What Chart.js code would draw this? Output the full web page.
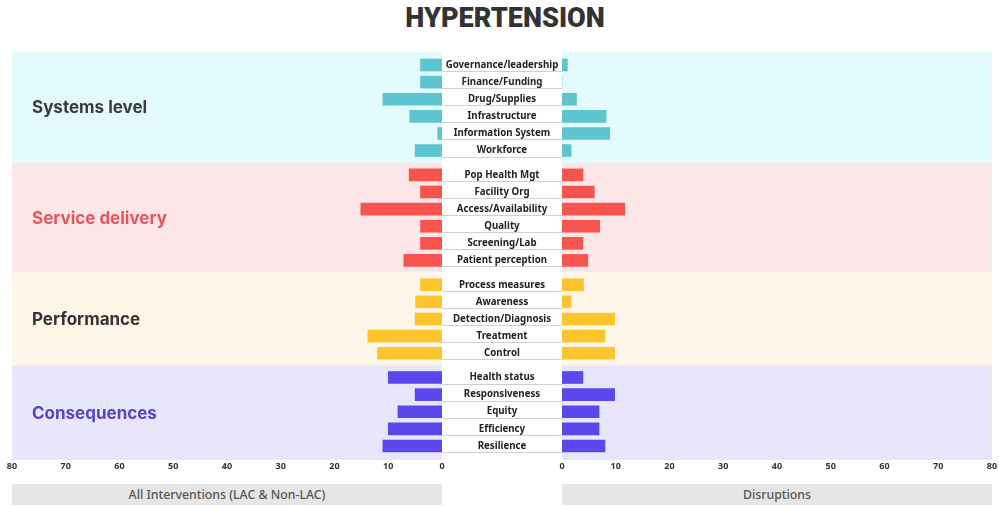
<!DOCTYPE html>
<html>
<head>
<meta charset="utf-8">
<script src="https://cdn.jsdelivr.net/npm/chart.js@4.4.0/dist/chart.umd.min.js"></script>
<style>
html,body{margin:0;padding:0;background:#fff;}
#wrap{position:relative;width:999px;height:507px;overflow:hidden;font-family:'Noto Sans',sans-serif;}
#title{position:absolute;left:0;top:0;width:1010px;height:36px;line-height:36px;text-align:center;}
#title span{display:inline-block;font-family:Roboto,sans-serif;font-weight:900;font-size:28.5px;color:#333;transform:scaleX(0.95);}
#cl{position:absolute;left:0;top:0;}
#cr{position:absolute;left:442px;top:0;}
.foot{position:absolute;top:484px;height:21px;background:#e6e6e6;color:#555;font-size:12.3px;font-weight:500;text-align:center;line-height:21px;}
</style>
</head>
<body>
<div id="wrap">
  <div id="title"><span>HYPERTENSION</span></div>
  <canvas id="cl" width="450" height="507"></canvas>
  <canvas id="cr" width="557" height="507"></canvas>
  <div class="foot" style="left:12px;width:430px;">All Interventions (LAC &amp; Non-LAC)</div>
  <div class="foot" style="left:562px;width:430px;">Disruptions</div>
</div>
<script>
// ---------- DATA ----------
const groupNames = ['Systems level', 'Service delivery', 'Performance', 'Consequences'];

const systemsLabels = ['Governance/leadership', 'Finance/Funding', 'Drug/Supplies', 'Infrastructure', 'Information System', 'Workforce'];
const systemsAll    = [4, 4, 11, 6, 0.8, 5];
const systemsDisr   = [1, 0, 2.7, 8.2, 8.9, 1.7];

const serviceLabels = ['Pop Health Mgt', 'Facility Org', 'Access/Availability', 'Quality', 'Screening/Lab', 'Patient perception'];
const serviceAll    = [6.1, 4, 15.1, 4, 4, 7.1];
const serviceDisr   = [3.9, 6, 11.7, 7, 3.9, 4.8];

const performanceLabels = ['Process measures', 'Awareness', 'Detection/Diagnosis', 'Treatment', 'Control'];
const performanceAll    = [4, 4.9, 5, 13.8, 12];
const performanceDisr   = [4, 1.7, 9.8, 8, 9.8];

const consequencesLabels = ['Health status', 'Responsiveness', 'Equity', 'Efficiency', 'Resilience'];
const consequencesAll    = [10, 5, 8.2, 10, 11];
const consequencesDisr   = [3.9, 9.8, 6.9, 6.9, 8];

const axisTicks = [0, 10, 20, 30, 40, 50, 60, 70, 80];
const leftTitle = 'All Interventions (LAC & Non-LAC)';
const rightTitle = 'Disruptions';

// ---------- STYLE ----------
const barColors   = ['#5cc5cf', '#f7534f', '#fcc52e', '#5a48ec'];
const bandColors  = ['#e4fbfd', '#fde6e7', '#fef6e9', '#e7e6fc'];
const groupColors = ['#3b3b3b', '#e4565c', '#333333', '#5545c9'];
const GROUP_STEP = 1.42, TOP_PAD = 0.76, BOT_PAD = 0.82;

// ---------- BUILD ROWS ----------
const groupLabels = [systemsLabels, serviceLabels, performanceLabels, consequencesLabels];
const groupAll = [systemsAll, serviceAll, performanceAll, consequencesAll];
const groupDisr = [systemsDisr, serviceDisr, performanceDisr, consequencesDisr];

const rows = [];
const groupRanges = [];
let k = 0;
groupLabels.forEach((labs, gi) => {
  const first = k + gi * (GROUP_STEP - 1);
  labs.forEach((lab, i) => {
    const pos = k + gi * (GROUP_STEP - 1);
    rows.push({label: lab, pos, all: groupAll[gi][i], disr: groupDisr[gi][i], g: gi});
    k++;
  });
  const last = (k - 1) + gi * (GROUP_STEP - 1);
  groupRanges.push({first, last});
});
const yMin = -TOP_PAD;
const yMax = rows[rows.length - 1].pos + BOT_PAD;
const bandBounds = groupRanges.map((r, gi) => {
  const top = gi === 0 ? yMin : r.first - GROUP_STEP / 2;
  const bot = gi === groupRanges.length - 1 ? yMax : r.last + GROUP_STEP / 2;
  return {top, bot};
});

function bandsPlugin(id) {
  return {
    id,
    beforeDraw(chart) {
      const {ctx, chartArea, scales} = chart;
      const y = scales.y;
      ctx.save();
      bandBounds.forEach((b, gi) => {
        const t = y.getPixelForValue(b.top), bt = y.getPixelForValue(b.bot);
        ctx.fillStyle = bandColors[gi];
        ctx.fillRect(chartArea.left, Math.min(t, bt), chartArea.right - chartArea.left, Math.abs(bt - t));
      });
      ctx.restore();
    }
  };
}

const groupTextPlugin = {
  id: 'groupText',
  afterDraw(chart) {
    const {ctx, scales} = chart;
    const y = scales.y;
    ctx.save();
    ctx.font = '700 17px Inter, "Noto Sans", sans-serif';
    ctx.textAlign = 'left';
    ctx.textBaseline = 'middle';
    bandBounds.forEach((b, gi) => {
      const mid = (y.getPixelForValue(b.top) + y.getPixelForValue(b.bot)) / 2 + 1;
      ctx.fillStyle = groupColors[gi];
      ctx.fillText(groupNames[gi], 32, mid);
    });
    ctx.restore();
  }
};

const rowLabelPlugin = {
  id: 'rowLabels',
  afterDraw(chart) {
    const {ctx, scales, chartArea} = chart;
    const y = scales.y;
    const cx = chartArea.left / 2;
    ctx.save();
    ctx.font = '700 9.7px "Noto Sans", sans-serif';
    ctx.textAlign = 'center';
    ctx.textBaseline = 'middle';
    rows.forEach(r => {
      const py = y.getPixelForValue(r.pos);
      ctx.strokeStyle = '#cfcfd4';
      ctx.lineWidth = 1;
      ctx.beginPath();
      ctx.moveTo(0, Math.round(py + 6) + 0.5);
      ctx.lineTo(chartArea.left, Math.round(py + 6) + 0.5);
      ctx.stroke();
      ctx.fillStyle = '#222';
      ctx.fillText(r.label, cx, py);
    });
    ctx.restore();
  }
};

function xScale(reverse) {
  return {
    type: 'linear', reverse, min: 0, max: 80,
    afterBuildTicks(s) { s.ticks = axisTicks.map(v => ({value: v})); },
    afterFit(s) { s.height = 47; },
    grid: {display: false, drawTicks: false},
    border: {display: false},
    ticks: {padding: 1, color: '#333', font: {family: '"Noto Sans", sans-serif', size: 9, weight: '700'}}
  };
}
const yScale = {type: 'linear', reverse: true, offset: false, min: yMin, max: yMax, display: false};

Chart.defaults.animation = false;

new Chart(document.getElementById('cl'), {
  type: 'bar',
  data: {
    datasets: [{
      label: leftTitle,
      data: rows.map(r => ({x: r.all, y: r.pos})),
      backgroundColor: rows.map(r => barColors[r.g]),
      barThickness: 12,
      borderWidth: 0
    }]
  },
  options: {
    responsive: false, indexAxis: 'y',
    layout: {padding: {left: 12, right: 8, top: 52, bottom: 0}},
    scales: {x: xScale(true), y: yScale},
    plugins: {legend: {display: false}, tooltip: {enabled: false}}
  },
  plugins: [bandsPlugin('bandsL'), groupTextPlugin]
});

new Chart(document.getElementById('cr'), {
  type: 'bar',
  data: {
    datasets: [{
      label: rightTitle,
      data: rows.map(r => ({x: r.disr, y: r.pos})),
      backgroundColor: rows.map(r => barColors[r.g]),
      barThickness: 12,
      borderWidth: 0
    }]
  },
  options: {
    responsive: false, indexAxis: 'y',
    layout: {padding: {left: 120, right: 7, top: 52, bottom: 0}},
    scales: {x: xScale(false), y: yScale},
    plugins: {legend: {display: false}, tooltip: {enabled: false}}
  },
  plugins: [bandsPlugin('bandsR'), rowLabelPlugin]
});
</script>
</body>
</html>
